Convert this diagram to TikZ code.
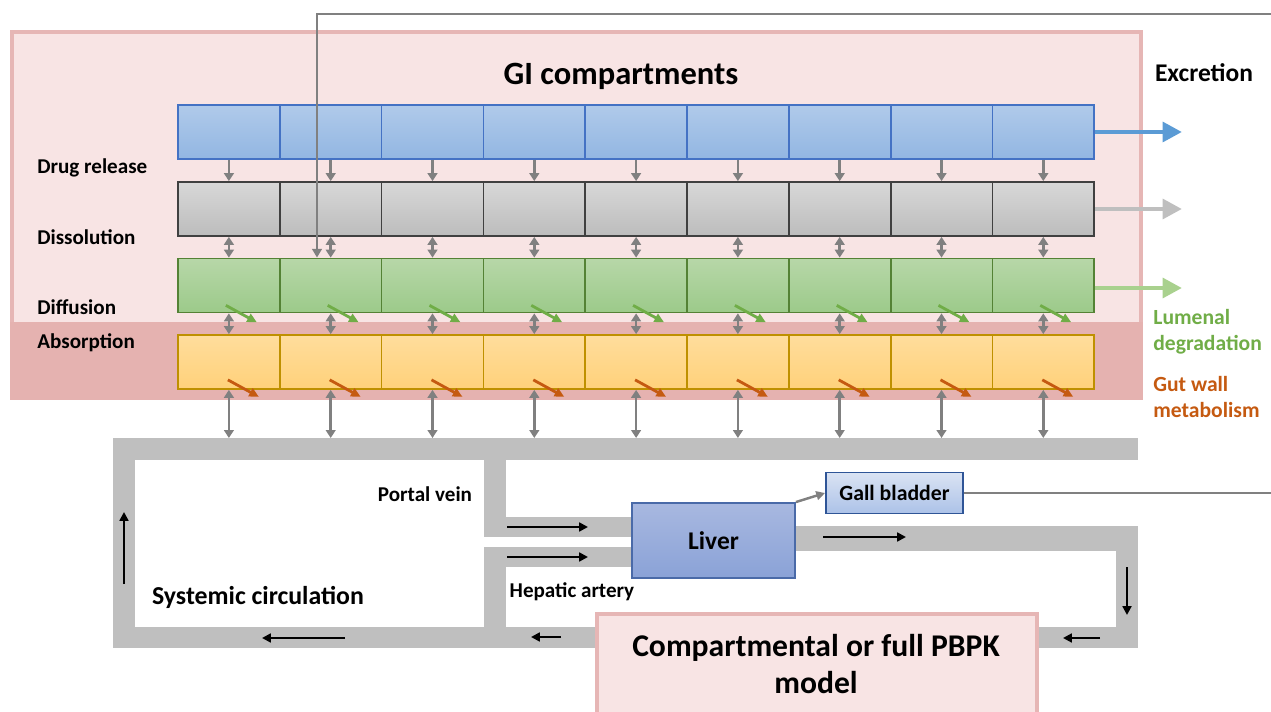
\documentclass[tikz,border=0pt]{standalone}
\usepackage{fontspec}
\setmainfont{Carlito}
\usetikzlibrary{arrows.meta}
\definecolor{gipink}{HTML}{F8E4E4}
\definecolor{giborder}{HTML}{E6B6B5}
\definecolor{giband}{HTML}{E5B2B0}
\definecolor{vessel}{HTML}{BFBFBF}
\definecolor{lumengreen}{HTML}{70AD47}
\definecolor{gutorange}{HTML}{C55A11}
\definecolor{rlsborder}{HTML}{4472C4}

\begin{document}
\begin{tikzpicture}[x=0.02cm,y=-0.02cm,
  cell/.style={draw,line width=1pt,minimum width=2.036cm,minimum height=1.08cm,inner sep=0pt},
  lbl/.style={font=\fontsize{12}{14}\selectfont\bfseries,inner sep=0pt},
  flow/.style={draw=gray,line width=1.4pt,-{Triangle[length=4.5pt,width=5.5pt]}},
  flowtwo/.style={flow,{Triangle[length=4.5pt,width=5.5pt]}-{Triangle[length=4.5pt,width=5.5pt]}},
  degr/.style={line width=1.6pt,-{Triangle[length=5.5pt,width=5pt]}},
  excr/.style={line width=2.8pt,-{Triangle[length=11pt,width=11pt]}},
  blood/.style={line width=1.5pt,-{Triangle[length=5pt,width=5pt]}},
  feed/.style={draw=black!50,line width=1.4pt}]
\useasboundingbox (0,0) rectangle (1271,712);

% 胃肠道区域
\fill[gipink] (10,30) rectangle (1143,322);
\draw[giborder,line width=2.2pt] (12,322) -- (12,32) -- (1141,32) -- (1141,322);
\fill[giband] (10,322) rectangle (1143,400);
\node[font=\fontsize{18.5}{22}\selectfont\bfseries] (gi) at (621,76) {GI compartments};

% 四行隔室
\foreach \i in {1,...,9}{
  \node[cell,draw=rlsborder,top color={rgb,255:red,176;green,202;blue,234},bottom color={rgb,255:red,146;green,182;blue,226}] (rls\i) at (178+101.8*\i-50.9,132) {};
  \node[cell,draw=black!75,top color={rgb,255:red,216;green,216;blue,216},bottom color={rgb,255:red,188;green,188;blue,188}] (dsl\i) at (178+101.8*\i-50.9,209) {};
  \node[cell,draw={rgb,255:red,84;green,130;blue,53},top color={rgb,255:red,183;green,215;blue,168},bottom color={rgb,255:red,156;green,202;blue,138}] (dfs\i) at (178+101.8*\i-50.9,285.5) {};
  \node[cell,draw={rgb,255:red,191;green,144;blue,0},top color={rgb,255:red,255;green,221;blue,156},bottom color={rgb,255:red,255;green,209;blue,122}] (abs\i) at (178+101.8*\i-50.9,362) {};
}

\node[lbl,anchor=west] (release) at (37,168) {Drug release};
\node[lbl,anchor=west] (dissol) at (37,237) {Dissolution};
\node[lbl,anchor=west] (diffus) at (37,307) {Diffusion};
\node[lbl,anchor=west] (absorp) at (37,343) {Absorption};

% 血管
\coordinate (vtop) at (0,438);
\fill[vessel] (113,438) rectangle (1138,460);
\fill[vessel] (113,438) rectangle (135,648);
\fill[vessel] (113,627) rectangle (1138,648);
\fill[vessel] (484,460) rectangle (506,537);
\fill[vessel] (484,517) rectangle (640,537);
\fill[vessel] (484,547) rectangle (640,567);
\fill[vessel] (484,547) rectangle (506,627);
\fill[vessel] (790,526) rectangle (1138,551);
\fill[vessel] (1116,526) rectangle (1138,648);

% 隔室之间的箭头
\foreach \i in {1,...,9}{
  \draw[flow] (rls\i.south) -- (dsl\i.north);
  \draw[flowtwo] (dsl\i.south) -- (dfs\i.north);
  \draw[flowtwo] (dfs\i.south) -- (abs\i.north);
  \draw[flowtwo] (abs\i.south) -- (abs\i.south |- vtop);
  \draw[degr,lumengreen] ([xshift=-0.06cm,yshift=0.16cm]dfs\i.south) -- ++(31,17);
  \draw[degr,gutorange] ([xshift=-0.02cm,yshift=0.2cm]abs\i.south) -- ++(31,17);
}

% 排泄
\coordinate (exend) at (1182,0);
\node[font=\fontsize{14.5}{17}\selectfont\bfseries] (excretion) at (1204,73) {Excretion};
\draw[excr,draw={rgb,255:red,91;green,155;blue,213}] (rls9.east) -- (rls9.east -| exend);
\draw[excr,draw=vessel] (dsl9.east) -- (dsl9.east -| exend);
\draw[excr,draw={rgb,255:red,169;green,209;blue,142}] ([yshift=-0.05cm]dfs9.east) -- ([yshift=-0.05cm]dfs9.east -| exend);
\node[lbl,anchor=north west,align=left,text=lumengreen,font=\fontsize{12.3}{15}\selectfont\bfseries] (lumen) at (1153,309) {Lumenal\\degradation};
\node[lbl,anchor=north west,align=left,text=gutorange,font=\fontsize{12.3}{15}\selectfont\bfseries] (gutwall) at (1153,376) {Gut wall\\metabolism};

% 肝脏与胆囊
\node[draw={rgb,255:red,74;green,106;blue,168},line width=1.1pt,top color={rgb,255:red,168;green,184;blue,224},bottom color={rgb,255:red,138;green,162;blue,215},minimum width=3.26cm,minimum height=1.5cm,font=\fontsize{14.5}{17}\selectfont\bfseries] (liver) at (713.5,540.5) {Liver};
\node[draw={rgb,255:red,47;green,85;blue,151},line width=1.1pt,top color={rgb,255:red,218;green,227;blue,243},bottom color={rgb,255:red,172;green,194;blue,232},minimum width=2.74cm,minimum height=0.82cm,font=\fontsize{12.4}{14}\selectfont\bfseries] (gall) at (894.5,493) {Gall bladder};
\draw[feed,-{Triangle[length=5pt,width=5pt]}] (liver.north east) -- (gall.west);
\coordinate (rightedge) at (1271,14);
\draw[feed] (gall.east) -- (gall.east -| rightedge);
\draw[feed,-{Triangle[length=5pt,width=5.5pt]}] (rightedge) -| ([xshift=-0.274cm]dfs2.north);

% PBPK 模型
\node[draw=giborder,fill=gipink,line width=2.2pt,minimum width=8.8cm,minimum height=2.2cm,anchor=north] (pbpk) at (817,612) {};
\node[align=center,font=\fontsize{18}{21.5}\selectfont\bfseries] (pbpktext) at (816,664) {Compartmental or full PBPK\\model};

% 血流方向
\node[lbl] (portal) at (425,494) {Portal vein};
\node[lbl] (hepatic) at (572,592) {Hepatic artery};
\node[font=\fontsize{14.7}{17}\selectfont\bfseries] (systemic) at (258,597) {Systemic circulation};
\coordinate (pvstart) at (507,527);
\coordinate (hastart) at (507,557);
\coordinate (outstart) at (823,537);
\coordinate (downstart) at (1127,567);
\coordinate (botright) at (1100,638);
\coordinate (botmid) at (561,637);
\coordinate (botleft) at (345,638);
\coordinate (upstart) at (124,584);
\draw[blood] (pvstart) -- ++(81,0);
\draw[blood] (hastart) -- ++(81,0);
\draw[blood] (outstart) -- ++(83,0);
\draw[blood] (downstart) -- ++(0,48);
\draw[blood] (botright) -- ++(-37,0);
\draw[blood] (botmid) -- ++(-30,0);
\draw[blood] (botleft) -- ++(-83,0);
\draw[blood] (upstart) -- ++(0,-72);
\end{tikzpicture}
\end{document}
